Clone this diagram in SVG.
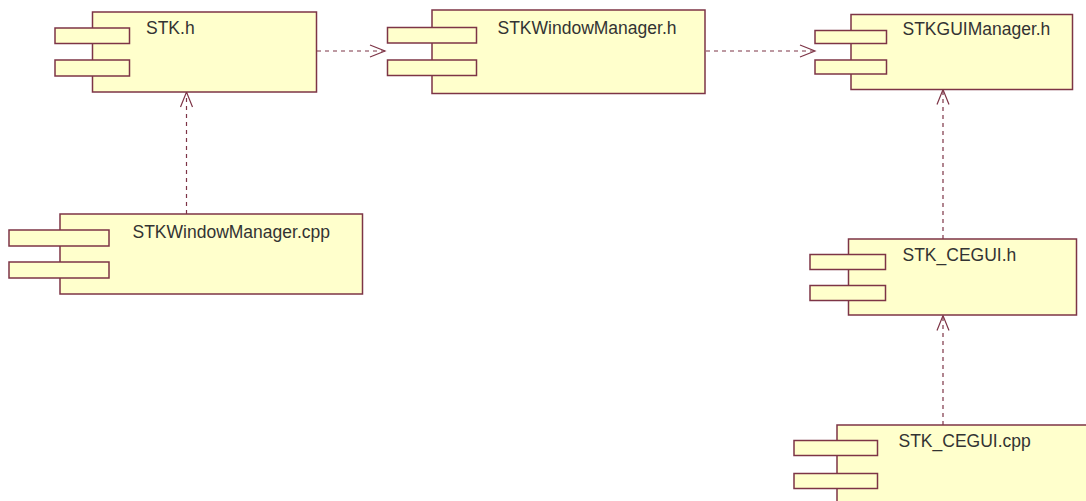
<svg xmlns="http://www.w3.org/2000/svg" width="1086" height="501" viewBox="0 0 1086 501">
  <style>
    .body { fill: #ffffcc; stroke: #7d3446; stroke-width: 1.5; }
    .tab { fill: #ffffcc; stroke: #7d3446; stroke-width: 1.5; }
    .label { font-family: "Liberation Sans", Arial, sans-serif; font-size: 17.5px; fill: #333333; }
    .dep { fill: none; stroke: #7d3446; stroke-width: 1.2; stroke-dasharray: 4 4; }
  </style>
  <defs>
    <marker id="open" markerUnits="userSpaceOnUse" markerWidth="20" markerHeight="16" viewBox="-17 -8 19 16" refX="0" refY="0" orient="auto">
      <path d="M-15,-6 L0,0 L-15,6" fill="none" stroke="#7d3446" stroke-width="1.2"/>
    </marker>
  </defs>
  <rect width="1086" height="501" fill="#ffffff"/>

  <g id="connectors">
    <line class="dep" x1="317" y1="51" x2="385" y2="51" marker-end="url(#open)"/>
    <line class="dep" x1="706" y1="51" x2="815" y2="51" marker-end="url(#open)"/>
    <line class="dep" x1="186.5" y1="214" x2="186.5" y2="92" marker-end="url(#open)"/>
    <line class="dep" x1="943" y1="239" x2="943" y2="89.5" marker-end="url(#open)"/>
    <line class="dep" x1="943" y1="425" x2="943" y2="315.5" marker-end="url(#open)"/>
  </g>

  <g id="stk-h">
    <rect class="body" x="92.5" y="12" width="224" height="80"/>
    <rect class="tab" x="55" y="28" width="74.5" height="15.5"/>
    <rect class="tab" x="55" y="60" width="74.5" height="16"/>
    <text class="label" x="146" y="34">STK.h</text>
  </g>

  <g id="stkwindowmanager-h">
    <rect class="body" x="432" y="10" width="273" height="83.5"/>
    <rect class="tab" x="387.5" y="27.5" width="89" height="15.5"/>
    <rect class="tab" x="387.5" y="60" width="89" height="15.5"/>
    <text class="label" x="497.5" y="34">STKWindowManager.h</text>
  </g>

  <g id="stkguimanager-h">
    <rect class="body" x="851" y="14.5" width="221.5" height="75"/>
    <rect class="tab" x="815" y="30.5" width="71.5" height="13"/>
    <rect class="tab" x="815" y="60" width="71.5" height="14"/>
    <text class="label" x="902.5" y="35">STKGUIManager.h</text>
  </g>

  <g id="stkwindowmanager-cpp">
    <rect class="body" x="60" y="214" width="302.5" height="80"/>
    <rect class="tab" x="9" y="230" width="100" height="16"/>
    <rect class="tab" x="9" y="262" width="100" height="16"/>
    <text class="label" x="132.5" y="237.5">STKWindowManager.cpp</text>
  </g>

  <g id="stk-cegui-h">
    <rect class="body" x="848.5" y="239" width="228" height="76"/>
    <rect class="tab" x="810" y="254.5" width="75.5" height="15"/>
    <rect class="tab" x="810" y="285.5" width="75.5" height="15"/>
    <text class="label" x="902.5" y="260.5">STK_CEGUI.h</text>
  </g>

  <g id="stk-cegui-cpp">
    <rect class="body" x="837" y="425" width="260" height="90"/>
    <rect class="tab" x="794" y="440.5" width="83.5" height="15"/>
    <rect class="tab" x="794" y="473.5" width="83.5" height="15"/>
    <text class="label" x="898.5" y="446.5">STK_CEGUI.cpp</text>
  </g>
</svg>
